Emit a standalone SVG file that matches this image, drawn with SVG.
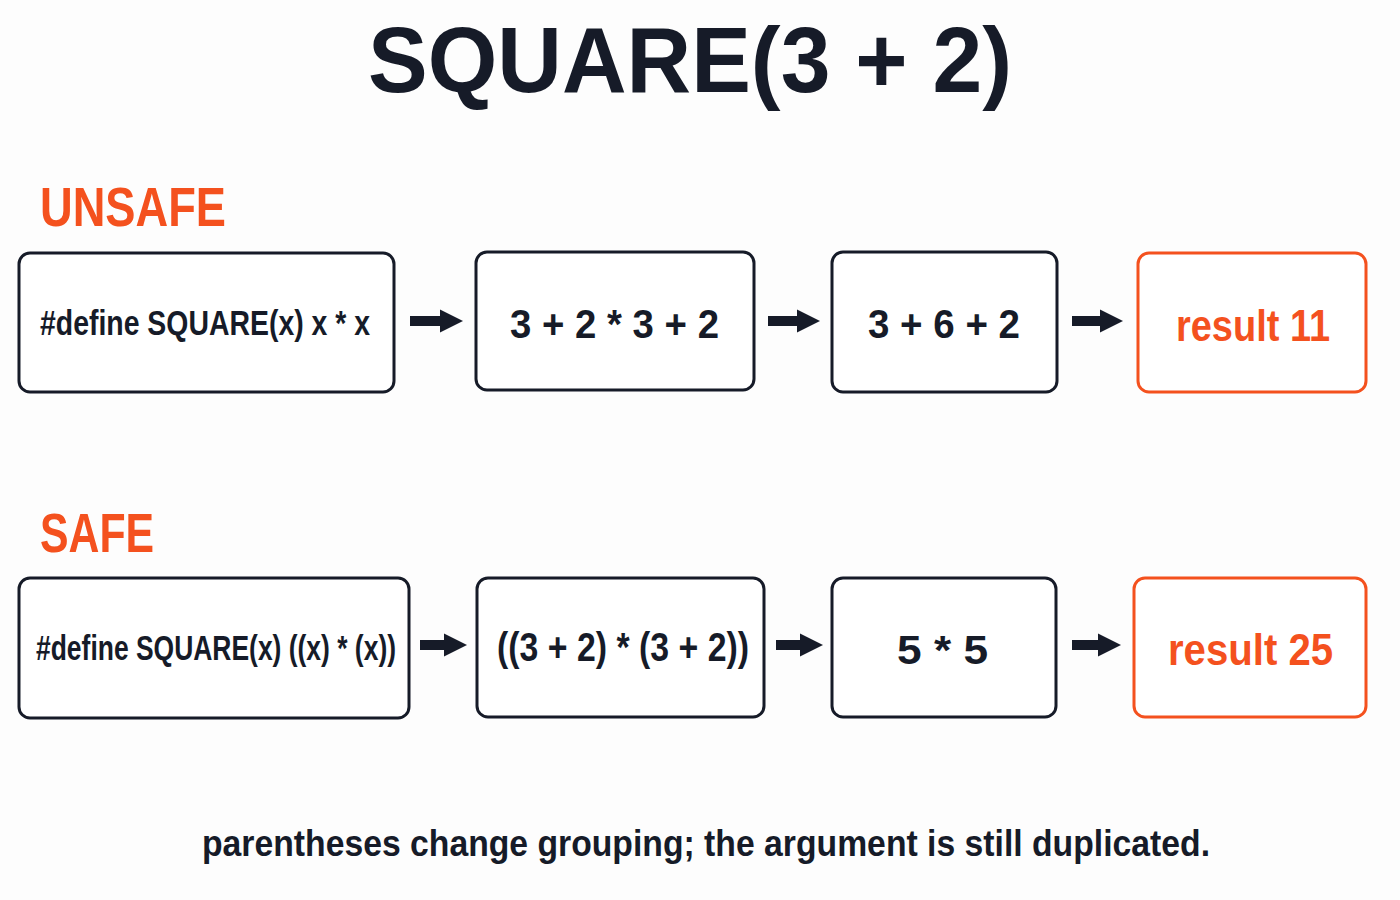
<svg xmlns="http://www.w3.org/2000/svg" width="1400" height="900" viewBox="0 0 1400 900">
<defs>
<style>
.bg{fill:#fdfdfd}
.box{fill:#ffffff;stroke:#161b28;stroke-width:3}
.res{fill:#ffffff;stroke:#f4511e;stroke-width:3}
.t{font-family:"Liberation Sans",Arial,sans-serif;font-weight:bold;fill:#161b28}
.o{fill:#f4511e}
.arrow{stroke:#161b28;stroke-width:10;fill:none}
</style>
<marker id="ah" viewBox="0 0 10 10" refX="0" refY="5" markerWidth="2.3" markerHeight="2.8" markerUnits="strokeWidth" orient="auto">
<path d="M0,0 L10,5 L0,10 Z" fill="#161b28"/>
</marker>
</defs>
<rect class="bg" x="0" y="0" width="1400" height="900"/>

<text id="title" class="t" x="368" y="92" font-size="93" textLength="644" lengthAdjust="spacingAndGlyphs">SQUARE(3 + 2)</text>

<text id="label-unsafe" class="t o" x="40" y="226" font-size="56" textLength="186" lengthAdjust="spacingAndGlyphs">UNSAFE</text>
<text id="label-safe" class="t o" x="40" y="552" font-size="56" textLength="114" lengthAdjust="spacingAndGlyphs">SAFE</text>

<g id="connectors">
<line class="arrow" x1="410" y1="321" x2="440" y2="321" marker-end="url(#ah)"/>
<line class="arrow" x1="768" y1="321" x2="797" y2="321" marker-end="url(#ah)"/>
<line class="arrow" x1="1072" y1="321" x2="1100" y2="321" marker-end="url(#ah)"/>
<line class="arrow" x1="420" y1="645" x2="444" y2="645" marker-end="url(#ah)"/>
<line class="arrow" x1="776" y1="645" x2="800" y2="645" marker-end="url(#ah)"/>
<line class="arrow" x1="1072" y1="645" x2="1098" y2="645" marker-end="url(#ah)"/>
</g>

<g id="n-unsafe-define">
<rect class="box" x="19" y="253" width="375" height="139" rx="11"/>
<text class="t" x="40" y="335" font-size="35" textLength="330" lengthAdjust="spacingAndGlyphs">#define SQUARE(x) x * x</text>
</g>
<g id="n-unsafe-expand">
<rect class="box" x="476" y="252" width="278" height="138" rx="11"/>
<text class="t" x="510" y="338" font-size="40" textLength="209" lengthAdjust="spacingAndGlyphs">3 + 2 * 3 + 2</text>
</g>
<g id="n-unsafe-eval">
<rect class="box" x="832" y="252" width="225" height="140" rx="11"/>
<text class="t" x="868" y="338" font-size="40" textLength="152" lengthAdjust="spacingAndGlyphs">3 + 6 + 2</text>
</g>
<g id="n-unsafe-result">
<rect class="res" x="1138" y="253" width="228" height="139" rx="11"/>
<text class="t o" x="1176" y="341" font-size="44" textLength="154" lengthAdjust="spacingAndGlyphs">result 11</text>
</g>

<g id="n-safe-define">
<rect class="box" x="19" y="578" width="390" height="140" rx="11"/>
<text class="t" x="36" y="660" font-size="35" textLength="360" lengthAdjust="spacingAndGlyphs">#define SQUARE(x) ((x) * (x))</text>
</g>
<g id="n-safe-expand">
<rect class="box" x="477" y="578" width="287" height="139" rx="11"/>
<text class="t" x="497" y="661" font-size="40" textLength="252" lengthAdjust="spacingAndGlyphs">((3 + 2) * (3 + 2))</text>
</g>
<g id="n-safe-eval">
<rect class="box" x="832" y="578" width="224" height="139" rx="11"/>
<text class="t" x="897" y="664" font-size="40" textLength="91" lengthAdjust="spacingAndGlyphs">5 * 5</text>
</g>
<g id="n-safe-result">
<rect class="res" x="1134" y="578" width="232" height="139" rx="11"/>
<text class="t o" x="1168" y="665" font-size="44" textLength="165" lengthAdjust="spacingAndGlyphs">result 25</text>
</g>

<text id="caption" class="t" x="202" y="856" font-size="37" textLength="1008" lengthAdjust="spacingAndGlyphs">parentheses change grouping; the argument is still duplicated.</text>
</svg>
